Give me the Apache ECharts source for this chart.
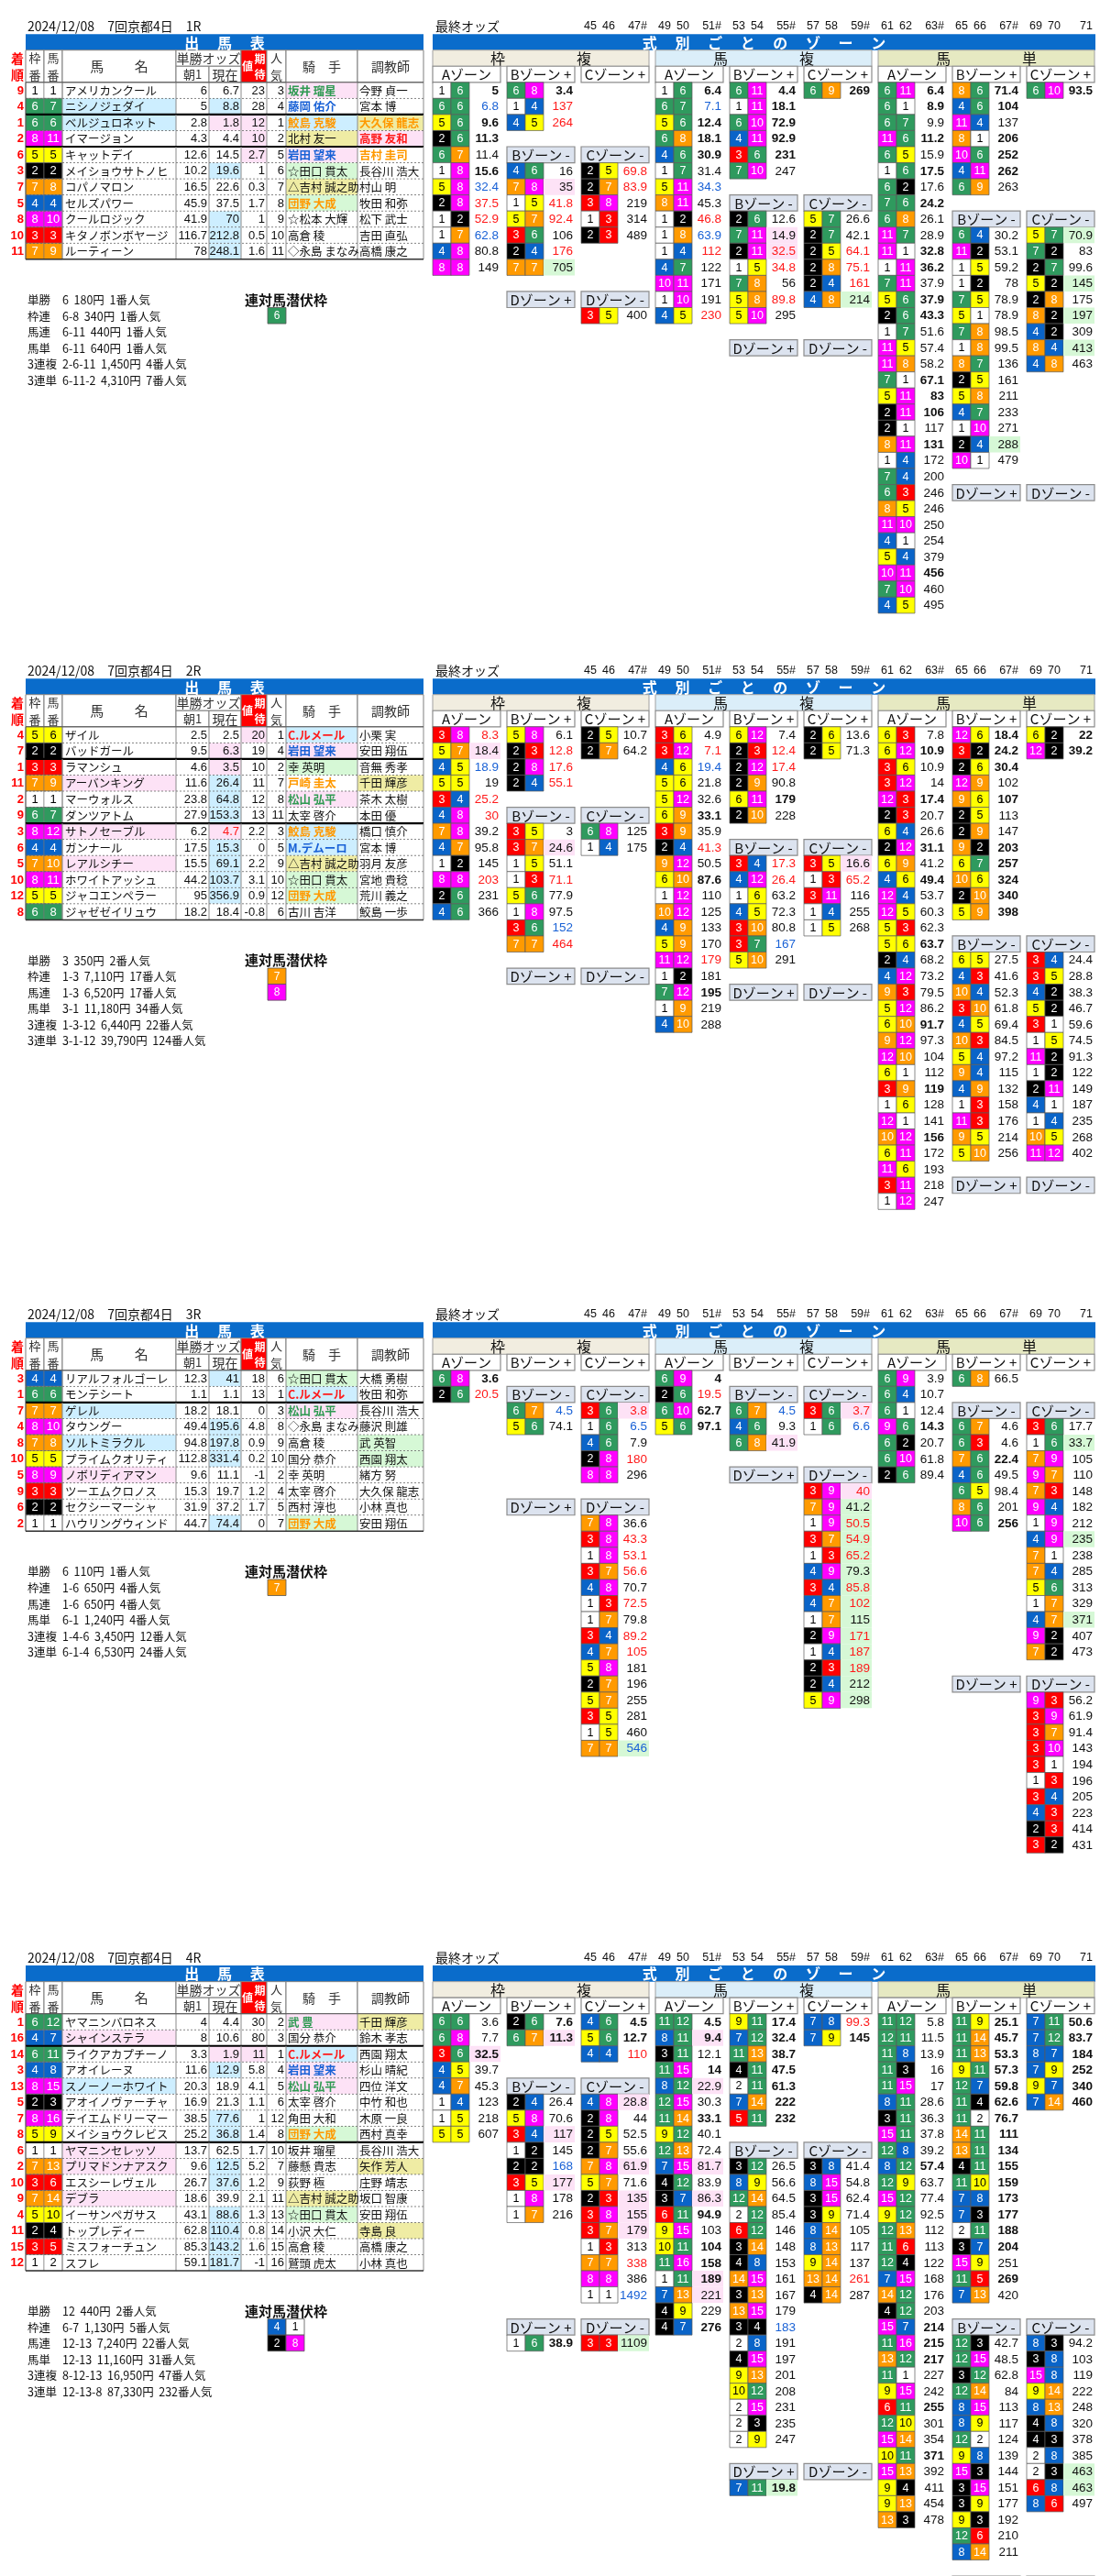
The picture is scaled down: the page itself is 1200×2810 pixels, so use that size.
<!DOCTYPE html>
<html><head><meta charset="utf-8">
<script src="https://cdn.jsdelivr.net/npm/echarts/dist/echarts.min.js"></script>
<style>html,body{margin:0;padding:0;background:#fff}#c{width:1200px;height:2810px}</style>
</head><body><div id="c"></div>
<script>
// ===================== DATA =====================
const COL_LABELS = ["45","46","47#","49","50","51#","53","54","55#","57","58","59#","61","62","63#","65","66","67#","69","70","71"];

// ---- Race 1 ----
const R1_TITLE = "2024/12/08　7回京都4日　1R";
const R1_FRAMES = [1,2,3,4,5,6,6,7,7,8,8];
const R1_ROWS = [
 [9,1,1,"アメリカンクール",6,6.7,23,3,"坂井 瑠星","今野 貞一"],
 [4,6,7,"ニシノジェダイ",5,8.8,28,4,"藤岡 佑介","宮本 博"],
 [1,6,6,"ベルジュロネット",2.8,1.8,12,1,"鮫島 克駿","大久保 龍志"],
 [2,8,11,"イマージョン",4.3,4.4,10,2,"北村 友一","高野 友和"],
 [6,5,5,"キャットデイ",12.6,14.5,2.7,5,"岩田 望来","吉村 圭司"],
 [3,2,2,"メイショウサトノヒ",10.2,19.6,1,6,"☆田口 貫太","長谷川 浩大"],
 [7,7,8,"コパノマロン",16.5,22.6,0.3,7,"△吉村 誠之助","村山 明"],
 [5,4,4,"セルズパワー",45.9,37.5,1.7,8,"団野 大成","牧田 和弥"],
 [8,8,10,"クールロジック",41.9,70,1,9,"☆松本 大輝","松下 武士"],
 [10,3,3,"キタノボンボヤージ",116.7,212.8,0.5,10,"高倉 稜","吉田 直弘"],
 [11,7,9,"ルーティーン",78,248.1,1.6,11,"◇永島 まなみ","高橋 康之"]
];
const R1_STY = ["---gpk-k","bb-u-k-k","bppoboyk","--pkyrpk","--pupo-k","-b-kgk-k","---kyk-k","---ogk-k","-b-k-k-k","-b-k-k-k","-b-k-k-k"];
const R1_THICK = [2,4];
const R1_RESULTS = [["単勝","6  180円  1番人気"],["枠連","6-8  340円  1番人気"],["馬連","6-11  440円  1番人気"],["馬単","6-11  640円  1番人気"],["3連複","2-6-11  1,450円  4番人気"],["3連単","6-11-2  4,310円  7番人気"]];
const R1_HIDDEN = [[6]];
const R1_WAKU = [
 "1-6 5 b,6-6 6.8 u,5-6 9.6 b,2-6 11.3 b,6-7 11.4,1-8 15.6 b,5-8 32.4 u,2-8 37.5 r,1-2 52.9 r,1-7 62.8 u,4-8 80.8,8-8 149",
 "6-8 3.4 b,1-4 137 r,4-5 264 r",
 "",
 "4-6 16,7-8 35 p,1-5 41.8 r,5-7 92.4 r,3-6 106,2-4 176 r,7-7 705 g",
 "2-5 69.8 r,2-7 83.9 r,3-8 219,1-3 314,2-3 489",
 "",
 "3-5 400"
];
const R1_UMAFUKU = [
 "1-6 6.4 b,6-7 7.1 u,5-6 12.4 b,6-8 18.1 b,4-6 30.9 b,1-7 31.4,5-11 34.3 u,8-11 45.3,1-2 46.8 r,1-8 63.9 u,1-4 112 r,4-7 122,10-11 171,1-10 191,4-5 230 r",
 "6-11 4.4 b,1-11 18.1 b,6-10 72.9 b,4-11 92.9 b,3-6 231 b,7-10 247",
 "6-9 269 b",
 "2-6 12.6,7-11 14.9 p,2-11 32.5 rp,1-5 34.8 r,7-8 56,5-8 89.8 r,5-10 295",
 "5-7 26.6,2-7 42.1,2-5 64.1 r,2-8 75.1 r,2-4 161 r,4-8 214 g",
 "",
 ""
];
const R1_UMATAN = [
 "6-11 6.4 b,6-1 8.9 b,6-7 9.9,11-6 11.2 b,6-5 15.9,1-6 17.5 b,6-2 17.6,7-6 24.2 b,6-8 26.1,11-7 28.9,11-1 32.8 b,1-11 36.2 b,7-11 37.9,5-6 37.9 b,2-6 43.3 b,1-7 51.6,11-5 57.4,11-8 58.2,7-1 67.1 b,5-11 83 b,2-11 106 b,2-1 117,8-11 131 b,1-4 172,7-4 200,6-3 246,8-5 246,11-10 250,4-1 254,5-4 379,10-11 456 b,7-10 460,4-5 495",
 "8-6 71.4 b,4-6 104 b,11-4 137,8-1 206 b,10-6 252 b,4-11 262 b,6-9 263",
 "6-10 93.5 b",
 "6-4 30.2,11-2 53.1,1-5 59.2,1-2 78,7-5 78.9,5-1 78.9,7-8 98.5,1-8 99.5,8-7 136,2-5 161,5-8 211,4-7 233,1-10 271,2-4 288 g,10-1 479",
 "5-7 70.9 g,7-2 83,2-7 99.6,5-2 145 g,2-8 175,8-2 197 g,4-2 309,8-4 413 g,4-8 463",
 "",
 ""
];

// ---- Race 2 ----
const R2_TITLE = "2024/12/08　7回京都4日　2R";
const R2_FRAMES = [1,2,3,4,5,5,6,6,7,7,8,8];
const R2_ROWS = [
 [4,5,6,"ザイル",2.5,2.5,20,1,"C.ルメール","小栗 実"],
 [7,2,2,"バッドガール",9.5,6.3,19,4,"岩田 望来","安田 翔伍"],
 [1,3,3,"ラマンシュ",4.6,3.5,10,2,"幸 英明","音無 秀孝"],
 [11,7,9,"アーバンキング",11.6,26.4,11,7,"戸崎 圭太","千田 輝彦"],
 [2,1,1,"マーウォルス",23.8,64.8,12,8,"松山 弘平","茶木 太樹"],
 [9,6,7,"ダンツアトム",27.9,153.3,13,11,"太宰 啓介","本田 優"],
 [3,8,12,"サトノセーブル",6.2,4.7,2.2,3,"鮫島 克駿","橋口 慎介"],
 [6,4,4,"ガンナール",17.5,15.3,0,5,"M.デムーロ","宮本 博"],
 [5,7,10,"レアルシチー",15.5,69.1,2.2,9,"△吉村 誠之助","羽月 友彦"],
 [10,8,11,"ホワイトアッシュ",44.2,103.7,3.1,10,"☆田口 貫太","宮地 貴稔"],
 [12,5,5,"ジャコエンペラー",95,356.9,0.9,12,"団野 大成","荒川 義之"],
 [8,6,8,"ジャゼゼイリュウ",18.2,18.4,-0.8,6,"古川 吉洋","鮫島 一歩"]
];
const R2_STY = ["--prbk-k","-p-upk-k","-p-kgk-k","pb-o-kyk","-b-gpk-k","-b-k-k-k","pp-obk-r","-b-ubk-k","pb-kyk-k","-b-kgk-k","-b-ogk-k","---k-k-k"];
const R2_THICK = [2,6];
const R2_RESULTS = [["単勝","3  350円  2番人気"],["枠連","1-3  7,110円  17番人気"],["馬連","1-3  6,520円  17番人気"],["馬単","3-1  11,180円  34番人気"],["3連複","1-3-12  6,440円  22番人気"],["3連単","3-1-12  39,790円  124番人気"]];
const R2_HIDDEN = [[7],[8]];
const R2_WAKU = [
 "3-8 8.3 r,5-7 18.4 p,4-5 18.9 u,5-5 19,3-4 25.2 r,4-8 30 r,7-8 39.2,4-7 95.8,1-2 145,8-8 203 r,2-6 231,4-6 366",
 "5-8 6.1,2-3 12.8 r,2-8 17.6 r,2-4 55.1 r",
 "2-5 10.7,2-7 64.2",
 "3-5 3,3-7 24.6 p,1-5 51.1,1-3 71.1 r,5-6 77.9,1-8 97.5,3-6 152 u,7-7 464 r",
 "6-8 125,1-4 175",
 "",
 ""
];
const R2_UMAFUKU = [
 "3-6 4.9,3-12 7.1 r,4-6 19.4 u,5-6 21.8,5-12 32.6,6-9 33.1 b,3-9 35.9,2-4 41.3 r,9-12 50.5,6-10 87.6 b,1-12 110,10-12 125,4-9 133,5-9 170,11-12 179 r,1-2 181,7-12 195 b,1-9 219,4-10 288",
 "6-12 7.4,2-3 12.4 r,2-12 17.4 r,2-9 90.8,6-11 179 b,2-10 228",
 "2-6 13.6,2-5 71.3",
 "3-4 17.3 r,4-12 26.4 r,1-6 63.2,4-5 72.3,3-10 80.8,3-7 167 u,5-10 291",
 "3-5 16.6 p,1-3 65.2 r,3-11 116,1-4 255,1-5 268",
 "",
 ""
];
const R2_UMATAN = [
 "6-3 7.8,6-12 10.9 b,3-6 10.9,3-12 14,12-3 17.4 b,2-3 20.7,6-4 26.6,2-12 31.1 b,6-9 41.2,4-6 49.4 b,12-4 53.7,12-5 60.3,5-3 62.3,5-6 63.7 b,2-4 68.2,4-12 73.2,9-3 79.5,5-12 86.2,6-10 91.7 b,9-12 97.3,12-10 104,6-1 112,3-9 119 b,1-6 128,12-1 141,10-12 156 b,6-11 172,11-6 193,3-11 218,1-12 247",
 "12-6 18.4 b,3-2 24.2 b,2-6 30.4 b,12-9 102,9-6 107 b,2-5 113,2-9 147,9-2 203 b,6-7 257 b,10-6 324 b,2-10 340 b,5-9 398 b",
 "6-2 22 b,12-2 39.2 b",
 "6-5 27.5,4-3 41.6,10-4 52.3,3-10 61.8,4-5 69.4,10-3 84.5,5-4 97.2,9-4 115,4-9 132,1-3 158,11-3 176,9-5 214,5-10 256",
 "3-4 24.4,3-5 28.8,4-2 38.3,5-2 46.7,3-1 59.6,1-5 74.5,11-2 91.3,1-2 122,2-11 149,4-1 187,1-4 235,10-5 268,11-12 402",
 "",
 ""
];

// ---- Race 3 ----
const R3_TITLE = "2024/12/08　7回京都4日　3R";
const R3_FRAMES = [1,2,3,4,5,6,7,7,8,8];
const R3_ROWS = [
 [3,4,4,"リアルフォルゴーレ",12.3,41,18,6,"☆田口 貫太","大橋 勇樹"],
 [1,6,6,"モンテシート",1.1,1.1,13,1,"C.ルメール","牧田 和弥"],
 [7,7,7,"ゲレル",18.2,18.1,0,3,"松山 弘平","長谷川 浩大"],
 [4,8,10,"タウングー",49.4,195.6,4.8,8,"◇永島 まなみ","藤沢 則雄"],
 [8,7,8,"ソルトミラクル",94.8,197.8,0.9,9,"高倉 稜","武 英智"],
 [10,5,5,"プライムクオリティ",112.8,331.4,0.2,10,"国分 恭介","西園 翔太"],
 [5,8,9,"ノボリディアマン",9.6,11.1,-1,2,"幸 英明","緒方 努"],
 [9,3,3,"ツーエムクロノス",15.3,19.7,1.2,4,"太宰 啓介","大久保 龍志"],
 [6,2,2,"セクシーマーシャ",31.9,37.2,1.7,5,"西村 淳也","小林 真也"],
 [2,1,1,"ハウリングウィンド",44.7,74.4,0,7,"団野 大成","安田 翔伍"]
];
const R3_STY = ["-b-kgk-k","---rbk-k","b--gpk-k","-b-k-k-k","bb-k-kgk","-b-k-kgk","p--k-k-k","---k-k-k","---k-k-k","-b-ogk-k"];
const R3_THICK = [2];
const R3_RESULTS = [["単勝","6  110円  1番人気"],["枠連","1-6  650円  4番人気"],["馬連","1-6  650円  4番人気"],["馬単","6-1  1,240円  4番人気"],["3連複","1-4-6  3,450円  12番人気"],["3連単","6-1-4  6,530円  24番人気"]];
const R3_HIDDEN = [[7]];
const R3_WAKU = [
 "6-8 3.6 b,2-6 20.5 r",
 "",
 "",
 "6-7 4.5 u,5-6 74.1",
 "3-6 3.8 rp,1-6 6.5 u,4-6 7.9,2-8 180 r,8-8 296",
 "",
 "7-8 36.6,3-8 43.3 r,1-8 53.1 r,3-7 56.6 r,4-8 70.7,1-3 72.5 r,1-7 79.8,3-4 89.2 r,4-7 105 r,5-8 181,2-7 196,5-7 255,3-5 281,1-5 460,7-7 546 ug"
];
const R3_UMAFUKU = [
 "6-9 4 b,2-6 19.5 r,6-10 62.7 b,5-6 97.1 b",
 "",
 "",
 "6-7 4.5 u,4-6 9.3,6-8 41.9 p",
 "3-6 3.7 rp,1-6 6.6 u",
 "",
 "3-9 40 rp,7-9 41.2 g,1-9 50.5 rg,3-7 54.9 rg,1-3 65.2 rg,4-9 79.3 g,3-4 85.8 rg,4-7 102 rg,1-7 115 g,2-9 171 rg,1-4 187 rg,2-3 189 rg,2-4 212 g,5-9 298 g"
];
const R3_UMATAN = [
 "6-9 3.9,6-4 10.7,6-1 12.4,9-6 14.3 b,6-2 20.7,6-10 61.8,2-6 89.4",
 "6-8 66.5",
 "",
 "6-7 4.6,6-3 4.6,7-6 22.4 b,4-6 49.5,6-5 98.4,8-6 201,10-6 256 b",
 "3-6 17.7,1-6 33.7 g,7-9 105,9-7 110,7-3 148,9-4 182,1-9 212,4-9 235 g,7-1 238,7-4 285,5-6 313,1-7 329,4-7 371 g,9-2 407,7-2 473",
 "",
 "9-3 56.2,3-9 61.9,3-7 91.4,3-10 143,3-1 194,1-3 196,3-4 205,4-3 223,2-3 414,3-2 431"
];

// ---- Race 4 ----
const R4_TITLE = "2024/12/08　7回京都4日　4R";
const R4_FRAMES = [1,1,2,2,3,3,4,4,5,5,6,6,7,7,8,8];
const R4_ROWS = [
 [1,6,12,"ヤマニンバロネス",4,4.4,30,2,"武 豊","千田 輝彦"],
 [16,4,7,"シャインステラ",8,10.6,80,3,"国分 恭介","鈴木 孝志"],
 [14,6,11,"ライクアカプチーノ",3.3,1.9,11,1,"C.ルメール","西園 翔太"],
 [3,4,8,"アオイレーヌ",11.6,12.9,5.8,4,"岩田 望来","杉山 晴紀"],
 [13,8,15,"スノーノーホワイト",20.3,18.9,4.1,5,"松山 弘平","四位 洋文"],
 [5,2,3,"アオイノヴァーチャ",16.9,21.3,1.1,6,"太宰 啓介","中竹 和也"],
 [7,8,16,"テイエムドリーマー",38.5,77.6,1,12,"角田 大和","木原 一良"],
 [8,5,9,"メイショウクレビス",25.2,36.8,1.4,8,"団野 大成","西村 真幸"],
 [6,1,1,"ヤマニンセレッソ",13.7,62.5,1.7,10,"坂井 瑠星","長谷川 浩大"],
 [2,7,13,"プリマドンナアスク",9.6,12.5,5.2,7,"藤懸 貴志","矢作 芳人"],
 [10,3,6,"エスシーレヴェル",26.7,37.6,1.2,9,"荻野 極","庄野 靖志"],
 [9,7,14,"デブラ",18.6,39.9,2.1,11,"△吉村 誠之助","坂口 智康"],
 [4,5,10,"イーサンペガサス",43.1,88.6,1.3,13,"☆田口 貫太","安田 翔伍"],
 [11,2,4,"トップレディー",62.8,110.4,0.8,14,"小沢 大仁","寺島 良"],
 [15,3,5,"ミスフォーチュン",85.3,143.2,1.6,15,"高倉 稜","高橋 康之"],
 [12,1,2,"スフレ",59.1,181.7,-1,16,"鷲頭 虎太","小林 真也"]
];
const R4_STY = ["---gpkyk","p--k-k-k","-pprbk-k","-b-upk-k","b--gpk-k","---k-k-k","-b-k-k-k","-b-ogk-k","p--k-k-k","pb-k-kyk","-b-k-k-k","p--kyk-k","-b-kgk-k","-b-k-kyk","-b-k-k-k","-b-k-k-k"];
const R4_THICK = [2,8];
const R4_RESULTS = [["単勝","12  440円  2番人気"],["枠連","6-7  1,130円  5番人気"],["馬連","12-13  7,240円  22番人気"],["馬単","12-13  11,160円  31番人気"],["3連複","8-12-13  16,950円  47番人気"],["3連単","12-13-8  87,330円  232番人気"]];
const R4_HIDDEN = [[4,1],[2,8]];
const R4_WAKU = [
 "6-6 3.6,6-8 7.7,3-6 32.5 bp,4-5 39.7,4-7 45.3,1-4 123,1-5 218,5-5 607",
 "2-6 7.6 b,6-7 11.3 bp",
 "4-6 4.5 b,5-6 12.7 b,4-4 110 r",
 "2-4 26.4,5-8 70.6,3-4 117 p,1-2 145,2-2 168 u,3-5 177 p,1-8 178,1-7 216",
 "4-8 28.8 p,2-8 44,2-5 52.5,2-7 55.6,7-8 61.9 p,5-7 71.6,2-3 135 p,3-8 155 p,3-7 179 p,1-3 313,7-7 338 r,8-8 386,1-1 1492 u",
 "1-6 38.9 b",
 "3-3 1109 g"
];
const R4_UMAFUKU = [
 "11-12 4.5 b,8-11 9.4 bp,3-11 12.1,11-15 14 b,8-12 22.9 p,12-15 30.3,11-14 33.1 b,9-12 40.1,12-13 72.4,7-15 81.7 p,4-12 83.9,3-7 86.3 p,6-11 94.9 b,9-15 103,10-11 104 b,11-16 158 b,1-11 189 bp,7-13 221 p,4-9 229,4-7 276 b",
 "9-11 17.4 b,7-12 32.4 b,11-13 38.7 b,4-11 47.5 b,2-11 61.3 b,7-14 222 b,5-11 232 b",
 "7-8 99.3 r,7-9 145 b",
 "3-12 26.5,8-9 56.6,12-14 64.5,2-12 85.4,6-12 146,3-14 148,4-8 153,14-15 161,3-13 167,13-15 179,3-4 183 u,2-8 191,4-15 197,9-13 201,10-12 208,2-15 231,2-3 235,2-9 247",
 "3-8 41.4,8-15 54.8,3-15 62.4,3-9 71.4,8-14 105,8-13 117,9-14 137,13-14 261 r,4-14 287",
 "7-11 19.8 bg",
 ""
];
const R4_UMATAN = [
 "11-12 5.8,12-11 11.5,11-8 13.9,11-3 16,11-15 17,8-11 28.6,3-11 36.3,15-11 37.8,12-8 39.2,8-12 57.4 b,12-9 63.7,15-12 77.4,9-12 92.5,12-13 112,11-6 113,12-4 122,7-15 168,14-12 176,4-12 203,15-7 214 b,11-16 215 b,13-12 217 b,11-1 227,9-15 242,6-11 255 b,12-10 301,15-14 354,10-11 371 b,15-13 392,9-4 411,9-13 454,13-3 478",
 "11-9 25.1 b,11-14 45.7 b,11-13 53.3 b,9-11 57.3 b,12-7 59.8 b,11-4 62.6 b,11-2 76.7 b,14-11 111 b,13-11 134 b,4-11 155 b,11-10 159 b,7-8 173 b,7-3 177 b,2-11 188 b,3-7 204 b,15-9 251,11-5 269 b,7-13 420",
 "7-11 50.6 b,7-12 83.7 b,8-7 184 b,7-9 252 b,9-7 340 b,7-14 460 b",
 "12-3 42.7,12-15 48.5,3-12 62.8,12-14 84,8-15 113,8-9 117,12-2 124,9-8 139,15-3 144,3-15 151,3-9 177,9-3 192,12-6 210,8-14 211",
 "8-3 94.2,3-8 103,15-8 119,9-14 222,8-13 248,4-8 320,4-3 378,2-8 385,2-3 463 g,6-8 463 g,8-6 497",
 "",
 ""
];

// ===================== STYLE / LAYOUT =====================
const FONT = "'Liberation Sans','Noto Sans CJK JP',sans-serif";
const JFONT = "'Noto Sans CJK JP','Liberation Sans',sans-serif";
const FRAME_FILL = {1:'#ffffff',2:'#000000',3:'#ff0000',4:'#0a64c8',5:'#ffff00',6:'#2f9a5e',7:'#ff9a00',8:'#ff00ff'};
const FRAME_TEXT = {1:'#000',2:'#fff',3:'#fff',4:'#fff',5:'#000',6:'#fff',7:'#fff',8:'#fff'};
const BG = {'-':null,b:'#cdeeff',p:'#fde2f6',g:'#d6f8d6',y:'#efeca4'};
const TXT = {k:'#111',r:'#ff1a1a',u:'#1a62d6',g:'#2f9a52',o:'#ff9900'};
const BLUE = '#0a6ccb';
const SEC_FILL = ['#f1ede0','#dbeef9','#e6e9c2'];
const SEC_NAMES = [['枠','複'],['馬','複'],['馬','単']];
const HDR_FILL2 = '#dce3ef';
const BLOCK_TOP = [0,703,1405,2107];
const PITCH = 17.55, ROW0_TOP = 19.6, NR = 39;
const LX = [10,28,48,68,192,228,263,291,312,390,462];
const ZX0 = 472, ZSTEP = 81, ZW = 74, CW = 20;

const RACES = [
 {title:R1_TITLE,frames:R1_FRAMES,rows:R1_ROWS,sty:R1_STY,thick:R1_THICK,results:R1_RESULTS,hidden:R1_HIDDEN,secs:[R1_WAKU,R1_UMAFUKU,R1_UMATAN]},
 {title:R2_TITLE,frames:R2_FRAMES,rows:R2_ROWS,sty:R2_STY,thick:R2_THICK,results:R2_RESULTS,hidden:R2_HIDDEN,secs:[R2_WAKU,R2_UMAFUKU,R2_UMATAN]},
 {title:R3_TITLE,frames:R3_FRAMES,rows:R3_ROWS,sty:R3_STY,thick:R3_THICK,results:R3_RESULTS,hidden:R3_HIDDEN,secs:[R3_WAKU,R3_UMAFUKU,R3_UMATAN]},
 {title:R4_TITLE,frames:R4_FRAMES,rows:R4_ROWS,sty:R4_STY,thick:R4_THICK,results:R4_RESULTS,hidden:R4_HIDDEN,secs:[R4_WAKU,R4_UMAFUKU,R4_UMATAN]}
];

function parseZone(s){
  if(!s) return [];
  return s.split(',').map(e=>{const parts=e.trim().split(' '); const ab=parts[0].split('-').map(Number);
    return {a:ab[0],b:ab[1],v:parts[1],t:parts[2]||''};});
}

function buildRace(race){
  const fills=[], lines=[], texts=[];
  const rect=(x0,x1,r0,r1,fill,stroke,lw)=>fills.push({x0,x1,r0,r1,kind:'rect',fill,stroke,lw});
  const line=(x0,x1,r0,r1,color,lw,dash)=>lines.push({x0,x1,r0,r1,kind:'line',color,lw,dash});
  const text=(x0,x1,r0,r1,t,o)=>texts.push(Object.assign({x0,x1,r0,r1,kind:'text',t:String(t)},o||{}));

  // ---------- left table ----------
  text(30,460,0,1,race.title,{align:'left',size:14,pad:0,family:JFONT});
  rect(LX[1],LX[10],1,2,BLUE,null);
  text(LX[1],LX[10],1,2,'出　 馬　 表',{color:'#fff',bold:true,size:16,family:JFONT});
  text(LX[0],LX[1],2,3,'着',{color:'#ff0000',bold:true,size:14,family:JFONT});
  text(LX[0],LX[1],3,4,'順',{color:'#ff0000',bold:true,size:14,family:JFONT});
  const hs='#7f7f7f', ht='#333';
  const hcell=(x0,x1,r0,r1,t,sz)=>{rect(x0,x1,r0,r1,'#fff',hs,1); text(x0,x1,r0,r1,t,{color:ht,size:sz||14,lh:19,family:JFONT});};
  hcell(LX[1],LX[2],2,4,'枠\n番',13);
  hcell(LX[2],LX[3],2,4,'馬\n番',13);
  hcell(LX[3],LX[4],2,4,'馬　　 名',15);
  hcell(LX[4],LX[6],2,3,'単勝オッズ',14);
  hcell(LX[4],LX[5],3,4,'朝1',13);
  hcell(LX[5],LX[6],3,4,'現在',14);
  rect(LX[6],LX[7],2,4,'#ff0000',hs,1);
  text(LX[6],LX[6]+14,2,4,'値',{color:'#fff',bold:true,size:12,family:JFONT});
  text(LX[6]+13,LX[7],2,4,'期\n待',{color:'#fff',bold:true,size:12,lh:17,family:JFONT});
  hcell(LX[7],LX[8],2,4,'人\n気',13);
  hcell(LX[8],LX[9],2,4,'騎　手',14);
  hcell(LX[9],LX[10],2,4,'調教師',14);

  const n = race.rows.length;
  race.rows.forEach((row,i)=>{
    const R=4+i, st=race.sty[i];
    const [rank,fr,no,name,m1,now,exp,pop,jock,trn]=row;
    text(LX[0],LX[1],R,R+1,rank,{color:'#ff0000',bold:true,size:13,align:'right',pad:2});
    rect(LX[1],LX[2],R,R+1,FRAME_FILL[fr],'#777',0.6);
    text(LX[1],LX[2],R,R+1,fr,{color:FRAME_TEXT[fr],size:13});
    rect(LX[2],LX[3],R,R+1,FRAME_FILL[fr],'#777',0.6);
    text(LX[2],LX[3],R,R+1,no,{color:FRAME_TEXT[fr],size:13});
    if(BG[st[0]]) rect(LX[3],LX[4],R,R+1,BG[st[0]],null);
    text(LX[3],LX[4],R,R+1,name,{align:'left',size:12.5,pad:3,family:JFONT});
    text(LX[4],LX[5],R,R+1,m1,{align:'right',size:13});
    if(BG[st[1]]) rect(LX[5],LX[6],R,R+1,BG[st[1]],null);
    text(LX[5],LX[6],R,R+1,now,{align:'right',size:13,color:TXT[st[7]]});
    if(BG[st[2]]) rect(LX[6],LX[7],R,R+1,BG[st[2]],null);
    text(LX[6],LX[7],R,R+1,exp,{align:'right',size:13});
    text(LX[7],LX[8],R,R+1,pop,{align:'right',size:13});
    if(BG[st[4]]) rect(LX[8],LX[9],R,R+1,BG[st[4]],null);
    text(LX[8],LX[9],R,R+1,jock,{align:'left',size:12.5,pad:2,color:TXT[st[3]],bold:st[3]!=='k',family:JFONT});
    if(BG[st[6]]) rect(LX[9],LX[10],R,R+1,BG[st[6]],null);
    text(LX[9],LX[10],R,R+1,trn,{align:'left',size:12.5,pad:2,color:TXT[st[5]],bold:st[5]!=='k',family:JFONT});
    for(let c=3;c<=10;c++) line(LX[c],LX[c],R,R+1,'#8a8a8a',1);
    line(LX[1],LX[1],R,R+1,'#555',1);
    if(i<n-1){
      if(race.thick.includes(i+1)) line(LX[1],LX[10],R+1,R+1,'#000',2.2);
      else line(LX[1],LX[10],R+1,R+1,'#666',0.8,[2,2]);
    }
  });
  line(LX[1],LX[10],4+n,4+n,'#333',1.5);
  line(LX[1],LX[10],4,4,'#555',1);

  // results & hidden frames
  const RR = 4+n+2;
  race.results.forEach((r,j)=>{
    text(30,68,RR+j,RR+j+1,r[0],{align:'left',size:12.5,pad:0,family:JFONT});
    text(68,260,RR+j,RR+j+1,r[1],{align:'left',size:12.5,pad:0,family:JFONT});
  });
  text(262,380,RR,RR+1,'連対馬潜伏枠',{align:'left',size:15,bold:true,pad:5,family:JFONT});
  race.hidden.forEach((hr,j)=>hr.forEach((f,c)=>{
    const x0=292+20*c;
    rect(x0,x0+20,RR+1+j,RR+2+j,FRAME_FILL[f],'#555',0.8);
    text(x0,x0+20,RR+1+j,RR+2+j,f,{color:FRAME_TEXT[f],size:12});
  }));

  // ---------- right zones ----------
  text(475,640,0,1,'最終オッズ',{align:'left',size:14,pad:0,family:JFONT});
  for(let q=2;q<=8;q++){
    const xl=ZX0+ZSTEP*q, b=(q-2)*3;
    text(xl,xl+CW,0,1,COL_LABELS[b],{size:12.5});
    text(xl+CW,xl+2*CW,0,1,COL_LABELS[b+1],{size:12.5});
    text(xl+2*CW,xl+ZW,0,1,COL_LABELS[b+2],{size:12.5,align:'right',pad:2});
  }
  rect(ZX0,1195,1,2,BLUE,null);
  text(ZX0,1195,1,2,'式　 別　 ご　 と　 の　 ゾ　 ー　 ン',{color:'#fff',bold:true,size:16,family:JFONT});

  const hdr=(s,z,k,label,fill)=>{
    const xl=ZX0+ZSTEP*(3*s+z);
    rect(xl,xl+ZW,k+3,k+4,fill,'#8c8c8c',1.2);
    text(xl,xl+ZW,k+3,k+4,label,{size:15,family:JFONT});
  };
  const entry=(s,z,k,e,frameOf)=>{
    const xl=ZX0+ZSTEP*(3*s+z), R=k+3;
    [e.a,e.b].forEach((num,c)=>{
      const f = frameOf?frameOf[num-1]:num;
      rect(xl+CW*c,xl+CW*(c+1),R,R+1,FRAME_FILL[f],'#5a5a5a',0.7);
      text(xl+CW*c,xl+CW*(c+1),R,R+1,num,{color:FRAME_TEXT[f],size:12.5});
    });
    const t=e.t;
    if(t.includes('p')) rect(xl+2*CW,xl+ZW,R,R+1,BG.p,null);
    if(t.includes('g')) rect(xl+2*CW,xl+ZW,R,R+1,BG.g,null);
    const col = t.includes('r')?TXT.r:(t.includes('u')?TXT.u:'#111');
    text(xl+2*CW,xl+ZW,R,R+1,e.v,{align:'right',pad:2,size:13.5,bold:t.includes('b'),color:col});
  };
  race.secs.forEach((zs,s)=>{
    const xs=ZX0+ZSTEP*3*s;
    rect(xs,xs+3*ZSTEP-7,2,3,SEC_FILL[s],'#a0a0a0',1);
    const cx=xs+(3*ZSTEP-7)/2;
    text(cx-70,cx-24,2,3,SEC_NAMES[s][0],{size:16,family:JFONT});
    text(cx+24,cx+70,2,3,SEC_NAMES[s][1],{size:16,family:JFONT});
    const Z=zs.map(parseZone);
    const frameOf = s===0?null:race.frames;
    const put=(z,k0,list)=>list.forEach((e,j)=>entry(s,z,k0+j,e,frameOf));
    hdr(s,0,0,'Aゾーン','#fff'); hdr(s,1,0,'Bゾーン +','#fff'); hdr(s,2,0,'Cゾーン +','#fff');
    put(0,1,Z[0]); put(1,1,Z[1]); put(2,1,Z[2]);
    const h2=Math.max(Z[1].length,Z[2].length)+2;
    hdr(s,1,h2,'Bゾーン -',HDR_FILL2); hdr(s,2,h2,'Cゾーン -',HDR_FILL2);
    put(1,h2+1,Z[3]); put(2,h2+1,Z[4]);
    const h3=h2+Math.max(Z[3].length,Z[4].length)+2;
    hdr(s,1,h3,'Dゾーン +',HDR_FILL2); hdr(s,2,h3,'Dゾーン -',HDR_FILL2);
    put(1,h3+1,Z[5]); put(2,h3+1,Z[6]);
  });
  return [fills,lines,texts];
}

function makeRender(items){
  return function(params, api){
    const o = items[params.dataIndex];
    const p0 = api.coord([api.value(0), api.value(2)]);
    const p1 = api.coord([api.value(1), api.value(3)]);
    const x=p0[0], y=p0[1], w=p1[0]-p0[0], h=p1[1]-p0[1];
    if(o.kind==='rect'){
      const st={fill:o.fill||'transparent'};
      if(o.stroke){st.stroke=o.stroke; st.lineWidth=o.lw||1;}
      return {type:'rect',shape:{x,y,width:w,height:h},style:st};
    }
    if(o.kind==='line'){
      return {type:'line',shape:{x1:x,y1:y,x2:x+w,y2:y+h},style:{stroke:o.color,lineWidth:o.lw,lineDash:o.dash||null}};
    }
    const pad = o.pad!=null?o.pad:2;
    const al = o.align||'center';
    const tx = al==='left'?x+pad:(al==='right'?x+w-pad:x+w/2);
    const st = {x:tx,y:y+h/2+0.5,text:o.t,fill:o.color||'#111',
      font:(o.bold?'bold ':'')+(o.size||13)+'px '+(o.family||FONT),
      align:al,verticalAlign:'middle'};
    if(o.lh) st.lineHeight=o.lh;
    return {type:'text',style:st};
  };
}

const chart = echarts.init(document.getElementById('c'), null, {renderer:'canvas'});
const grid=[], xAxis=[], yAxis=[], series=[];
RACES.forEach((race,i)=>{
  grid.push({left:0, top:BLOCK_TOP[i]+ROW0_TOP, width:1200, height:NR*PITCH, containLabel:false});
  xAxis.push({type:'value', gridIndex:i, min:0, max:1200, show:false});
  yAxis.push({type:'value', gridIndex:i, min:0, max:NR, inverse:true, show:false});
  buildRace(race).forEach((items,z)=>{
    series.push({type:'custom', xAxisIndex:i, yAxisIndex:i, z:z+1, clip:false, silent:true,
      progressive:0, animation:false,
      encode:{x:[0,1], y:[2,3]},
      data: items.map(o=>[o.x0,o.x1,o.r0,o.r1]),
      renderItem: makeRender(items)});
  });
});
chart.setOption({animation:false, backgroundColor:'#ffffff', grid, xAxis, yAxis, series});
</script></body></html>
